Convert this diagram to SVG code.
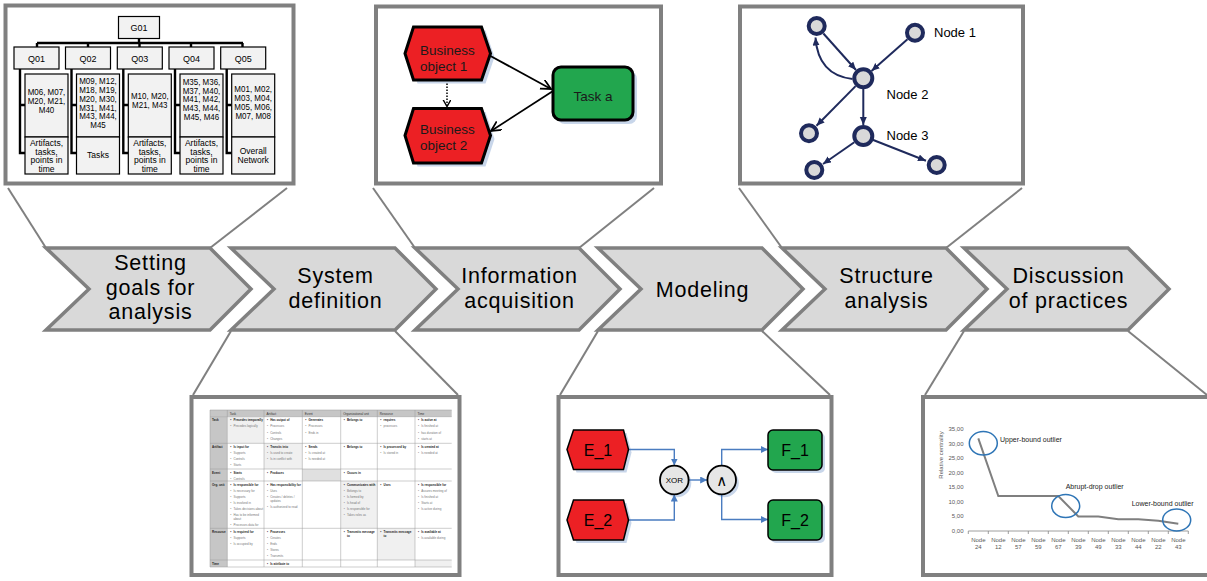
<svg xmlns="http://www.w3.org/2000/svg" width="1207" height="581" viewBox="0 0 1207 581">
<style>
.frame{fill:#fff;stroke:#808080;stroke-width:4}
.funnel{stroke:#808080;stroke-width:2;fill:none}
.chev{fill:#d9d9d9;stroke:#808080;stroke-width:3.5}
.ct{font-family:"Liberation Sans",Arial,sans-serif;font-size:21.5px;letter-spacing:0.8px;text-anchor:middle;fill:#000}
.tb{fill:#f2f2f2;stroke:#000;stroke-width:1.2}
.tt{font-family:"Liberation Sans",Arial,sans-serif;font-size:9px;text-anchor:middle;fill:#000}
.tm{font-family:"Liberation Sans",Arial,sans-serif;font-size:9.5px;text-anchor:middle;fill:#000}
.tl{stroke:#000;stroke-width:2.4;fill:none}
.red{fill:#ec2024;stroke:#000;stroke-width:3}
.grn{fill:#22a64e;stroke:#000;stroke-width:3}
.shd{fill:#c8d6ea}
.bt{font-family:"Liberation Sans",Arial,sans-serif;font-size:13.5px;fill:#1a1a1a}
.ar{stroke:#000;stroke-width:1.8;fill:none}
.nd{fill:#d9d9d9;stroke:#1f2a5c;stroke-width:4}
.ne{stroke:#1f2a5c;stroke-width:2;fill:none}
.nt{font-family:"Liberation Sans",Arial,sans-serif;font-size:13px;fill:#000}
.tg{fill:none;stroke:#9a9a9a;stroke-width:0.5}
.th{font-family:"Liberation Sans",Arial,sans-serif;font-size:3.1px;fill:#333}
.tk{font-family:"Liberation Sans",Arial,sans-serif;font-size:3px;fill:#222;font-weight:bold}
.tx{font-family:"Liberation Sans",Arial,sans-serif;font-size:3px;fill:#777}
.ered{fill:#ec2024;stroke:#000;stroke-width:1.5}
.egrn{fill:#22a64e;stroke:#000;stroke-width:1.5}
.eline{stroke:#4a7cc0;stroke-width:1.4;fill:none}
.et{font-family:"Liberation Sans",Arial,sans-serif;font-size:16px;text-anchor:middle;fill:#000}
.gate{fill:#e6e6e6;stroke:#000;stroke-width:1.8}
.ax{font-family:"Liberation Sans",Arial,sans-serif;font-size:6px;fill:#595959}
.ol{fill:none;stroke:#2e75b6;stroke-width:1.5}
.olt{font-family:"Liberation Sans",Arial,sans-serif;font-size:7px;fill:#222}
</style>
<defs>
<marker id="openB" markerUnits="userSpaceOnUse" markerWidth="12" markerHeight="12" refX="10" refY="5" orient="auto">
<path d="M0,0 L10,5 L0,10" fill="none" stroke="#000" stroke-width="1.8"/>
</marker>
<marker id="openS" markerUnits="userSpaceOnUse" markerWidth="10" markerHeight="10" refX="7" refY="4" orient="auto">
<path d="M0,0 L7,4 L0,8" fill="none" stroke="#000" stroke-width="1.4"/>
</marker>
<marker id="navy" markerUnits="userSpaceOnUse" markerWidth="9" markerHeight="8" refX="8" refY="3.5" orient="auto">
<path d="M0,0 L8,3.5 L0,7 z" fill="#1f2a5c"/>
</marker>
<marker id="blue" markerUnits="userSpaceOnUse" markerWidth="8" markerHeight="8" refX="7" refY="3.5" orient="auto">
<path d="M0,0 L7,3.5 L0,7 z" fill="#4a7cc0"/>
</marker>
</defs>
<rect width="1207" height="581" fill="#fff"/>

<g id="connectors">
<g id="funnels">
<line class="funnel" x1="8" y1="188" x2="46" y2="248"/>
<line class="funnel" x1="287" y1="188" x2="210" y2="248"/>
<line class="funnel" x1="373" y1="188" x2="415" y2="248"/>
<line class="funnel" x1="654" y1="188" x2="579" y2="248"/>
<line class="funnel" x1="739" y1="188" x2="782" y2="248"/>
<line class="funnel" x1="1022" y1="188" x2="946" y2="248"/>
<line class="funnel" x1="231" y1="331" x2="193" y2="395"/>
<line class="funnel" x1="395" y1="331" x2="458" y2="395"/>
<line class="funnel" x1="598" y1="331" x2="560" y2="395"/>
<line class="funnel" x1="762" y1="331" x2="830" y2="395"/>
<line class="funnel" x1="964" y1="331" x2="925" y2="395"/>
<line class="funnel" x1="1128" y1="331" x2="1207" y2="395"/>
</g>
</g>

<g id="step1"><polygon class="chev" points="46,248 210,248 251,289 210,330 46,330 89,289"/>
<text class="ct" x="150.5" y="270">Setting</text><text class="ct" x="150.5" y="295">goals for</text><text class="ct" x="150.5" y="319">analysis</text></g>
<g id="step2"><polygon class="chev" points="231,248 395,248 436,289 395,330 231,330 274,289"/>
<text class="ct" x="335.5" y="283">System</text><text class="ct" x="335.5" y="308">definition</text></g>
<g id="step3"><polygon class="chev" points="415,248 579,248 620,289 579,330 415,330 458,289"/>
<text class="ct" x="519.5" y="283">Information</text><text class="ct" x="519.5" y="308">acquisition</text></g>
<g id="step4"><polygon class="chev" points="598,248 762,248 803,289 762,330 598,330 641,289"/>
<text class="ct" x="702.5" y="297">Modeling</text></g>
<g id="step5"><polygon class="chev" points="782,248 946,248 987,289 946,330 782,330 825,289"/>
<text class="ct" x="886.5" y="283">Structure</text><text class="ct" x="886.5" y="308">analysis</text></g>
<g id="step6"><polygon class="chev" points="964,248 1128,248 1169,289 1128,330 964,330 1007,289"/>
<text class="ct" x="1068.5" y="283">Discussion</text><text class="ct" x="1068.5" y="308">of practices</text></g>

<g id="frame-goals">
<rect class="frame" x="5.5" y="5.5" width="288" height="178"/>
<path class="tl" d="M139,38.5 V43 M37,43 H243 M37,43 V47 M88,43 V47 M139.5,43 V47 M191,43 V47 M242.5,43 V47"/>
<path class="tl" d="M20,69 V153 H25 M20,105 H25 M71.5,69 V153 H76.5 M71.5,105 H76.5 M123.3,69 V153 H128.3 M123.3,105 H128.3 M175,69 V153 H180 M175,105 H180 M226.7,69 V153 H231.7 M226.7,105 H231.7"/>
<g id="G01"><rect class="tb" x="118.5" y="16.5" width="41" height="22"/><text class="tt" x="139" y="31">G01</text></g>
<g id="Q01"><rect class="tb" x="14" y="47" width="45" height="22"/><text class="tt" x="36.5" y="61.5">Q01</text></g>
<g id="Q02"><rect class="tb" x="65.5" y="47" width="45" height="22"/><text class="tt" x="88" y="61.5">Q02</text></g>
<g id="Q03"><rect class="tb" x="117.3" y="47" width="45" height="22"/><text class="tt" x="139.8" y="61.5">Q03</text></g>
<g id="Q04"><rect class="tb" x="169" y="47" width="45" height="22"/><text class="tt" x="191.5" y="61.5">Q04</text></g>
<g id="Q05"><rect class="tb" x="220.7" y="47" width="45" height="22"/><text class="tt" x="243.2" y="61.5">Q05</text></g>
<g id="M01"><rect class="tb" x="25" y="74" width="43" height="63"/>
<g transform="translate(46.5 0) scale(0.84 1)"><text class="tm" x="0" y="95.5">M06, M07,<tspan x="0" dy="8.7">M20, M21,</tspan><tspan x="0" dy="8.7">M40</tspan></text></g></g>
<g id="M02"><rect class="tb" x="76.5" y="74" width="43" height="63"/>
<g transform="translate(98 0) scale(0.84 1)"><text class="tm" x="0" y="84.5">M09, M12,<tspan x="0" dy="8.7">M18, M19,</tspan><tspan x="0" dy="8.7">M20, M30,</tspan><tspan x="0" dy="8.7">M31, M41,</tspan><tspan x="0" dy="8.7">M43, M44,</tspan><tspan x="0" dy="8.7">M45</tspan></text></g></g>
<g id="M03"><rect class="tb" x="128.3" y="74" width="43" height="63"/>
<g transform="translate(149.8 0) scale(0.84 1)"><text class="tm" x="0" y="99.5">M10, M20,<tspan x="0" dy="8.7">M21, M43</tspan></text></g></g>
<g id="M04"><rect class="tb" x="180" y="74" width="43" height="63"/>
<g transform="translate(201.5 0) scale(0.84 1)"><text class="tm" x="0" y="85">M35, M36,<tspan x="0" dy="8.7">M37, M40,</tspan><tspan x="0" dy="8.7">M41, M42,</tspan><tspan x="0" dy="8.7">M43, M44,</tspan><tspan x="0" dy="8.7">M45, M46</tspan></text></g></g>
<g id="M05"><rect class="tb" x="231.7" y="74" width="43" height="63"/>
<g transform="translate(253.2 0) scale(0.84 1)"><text class="tm" x="0" y="92.5">M01, M02,<tspan x="0" dy="8.7">M03, M04,</tspan><tspan x="0" dy="8.7">M05, M06,</tspan><tspan x="0" dy="8.7">M07, M08</tspan></text></g></g>
<g id="B01"><rect class="tb" x="25" y="137" width="43" height="37"/>
<g transform="translate(46.5 0) scale(0.9 1)"><text class="tm" x="0" y="146">Artifacts,<tspan x="0" dy="8.7">tasks,</tspan><tspan x="0" dy="8.7">points in</tspan><tspan x="0" dy="8.7">time</tspan></text></g></g>
<g id="B02"><rect class="tb" x="76.5" y="137" width="43" height="37"/>
<g transform="translate(98 0) scale(0.9 1)"><text class="tm" x="0" y="158.5">Tasks</text></g></g>
<g id="B03"><rect class="tb" x="128.3" y="137" width="43" height="37"/>
<g transform="translate(149.8 0) scale(0.9 1)"><text class="tm" x="0" y="146">Artifacts,<tspan x="0" dy="8.7">tasks,</tspan><tspan x="0" dy="8.7">points in</tspan><tspan x="0" dy="8.7">time</tspan></text></g></g>
<g id="B04"><rect class="tb" x="180" y="137" width="43" height="37"/>
<g transform="translate(201.5 0) scale(0.9 1)"><text class="tm" x="0" y="146">Artifacts,<tspan x="0" dy="8.7">tasks,</tspan><tspan x="0" dy="8.7">points in</tspan><tspan x="0" dy="8.7">time</tspan></text></g></g>
<g id="B05"><rect class="tb" x="231.7" y="137" width="43" height="37"/>
<g transform="translate(253.2 0) scale(0.9 1)"><text class="tm" x="0" y="154">Overall<tspan x="0" dy="8.7">Network</tspan></text></g></g>
</g>

<g id="frame-info">
<rect class="frame" x="376" y="6.5" width="285" height="177"/>
<polygon class="shd" points="409,57 417.5,30.5 485.5,30.5 494.5,57 485.5,83.5 417.5,83.5"/>
<polygon class="shd" points="409,139 417.5,112 485.5,112 494.5,139 485.5,166.5 417.5,166.5"/>
<rect class="shd" x="557" y="71" width="80" height="53" rx="8"/>
<g id="bo1"><polygon class="red" points="405,53.5 413.5,27 481.5,27 490.5,53.5 481.5,80 413.5,80"/>
<text class="bt" x="420" y="54.5">Business<tspan x="420" dy="16">object 1</tspan></text></g>
<g id="bo2"><polygon class="red" points="405,135.5 413.5,108.5 481.5,108.5 490.5,135.5 481.5,163 413.5,163"/>
<text class="bt" x="420" y="133.5">Business<tspan x="420" dy="16">object 2</tspan></text></g>
<g id="taska"><rect class="grn" x="553" y="67" width="80" height="53" rx="8"/>
<text class="bt" x="593" y="101" text-anchor="middle">Task a</text></g>
<g id="info-edges">
<line class="ar" x1="490.5" y1="56" x2="551" y2="89" marker-end="url(#openB)"/>
<line class="ar" x1="553" y1="91" x2="491" y2="131" marker-end="url(#openB)"/>
<line x1="447" y1="83.5" x2="447" y2="106.5" stroke="#000" stroke-width="1.5" stroke-dasharray="1.5,1.5" marker-end="url(#openS)"/>
</g>
</g>

<g id="frame-network">
<rect class="frame" x="740" y="6.5" width="283" height="177"/>
<g id="net-edges">
<line class="ne" x1="823.4" y1="33.5" x2="856" y2="70" marker-end="url(#navy)"/>
<line class="ne" x1="907.5" y1="39.3" x2="871.5" y2="71" marker-end="url(#navy)"/>
<path class="ne" d="M852.5,79 Q818,75 815.5,37.5" marker-end="url(#navy)"/>
<line class="ne" x1="855.6" y1="86.1" x2="816.5" y2="125.7" marker-end="url(#navy)"/>
<line class="ne" x1="863.3" y1="89" x2="863.3" y2="125" marker-end="url(#navy)"/>
<line class="ne" x1="854.3" y1="142.3" x2="823" y2="164" marker-end="url(#navy)"/>
<line class="ne" x1="872.6" y1="139.7" x2="926" y2="160.8" marker-end="url(#navy)"/>
</g>
<g id="na"><circle class="nd" cx="816.7" cy="26" r="8"/></g>
<g id="node1"><circle class="nd" cx="915" cy="32.7" r="8"/><text class="nt" x="934" y="36.5">Node 1</text></g>
<g id="node2"><circle class="nd" cx="863.3" cy="78.3" r="9"/><text class="nt" x="886.5" y="99">Node 2</text></g>
<g id="nb"><circle class="nd" cx="809" cy="133.3" r="8"/></g>
<g id="node3"><circle class="nd" cx="863.3" cy="136" r="9"/><text class="nt" x="886.5" y="140">Node 3</text></g>
<g id="nc"><circle class="nd" cx="814.3" cy="170" r="8"/></g>
<g id="ndd"><circle class="nd" cx="936.7" cy="165" r="8"/></g>
</g>

<g id="frame-table">
<rect class="frame" x="191.5" y="397" width="268" height="178"/>
<rect x="210" y="410" width="241.7" height="6.7" fill="#c6c6c6"/>
<rect x="210" y="416.7" width="17.3" height="150.3" fill="#c6c6c6"/>
<rect x="227.3" y="416.7" width="36.7" height="26.6" fill="#f0f0f0"/>
<rect x="264" y="443.3" width="38.3" height="25.7" fill="#f0f0f0"/>
<rect x="302.3" y="469" width="38.4" height="12" fill="#e0e0e0"/>
<rect x="340.7" y="481" width="36.6" height="47.3" fill="#f0f0f0"/>
<rect x="377.3" y="528.3" width="37.7" height="31.7" fill="#f0f0f0"/>
<rect x="415" y="560" width="36.7" height="7" fill="#f0f0f0"/>
<path class="tg" d="M210,410 H451.7 M210,416.7 H451.7 M210,443.3 H451.7 M210,469 H451.7 M210,481 H451.7 M210,528.3 H451.7 M210,560 H451.7 M210,567 H451.7 M210,410 V567 M227.3,410 V567 M264,410 V567 M302.3,410 V567 M340.7,410 V567 M377.3,410 V567 M415,410 V567"/>
<text class="th" y="414.6"><tspan x="229.8">Task</tspan><tspan x="266.5">Artifact</tspan><tspan x="304.8">Event</tspan><tspan x="343.2">Organizational unit</tspan><tspan x="379.8">Resource</tspan><tspan x="417.5">Time</tspan></text>
<text class="tk" x="212"><tspan x="212" y="421.3">Task</tspan><tspan x="212" y="447.9">Artifact</tspan><tspan x="212" y="473.6">Event</tspan><tspan x="212" y="485.6">Org. unit</tspan><tspan x="212" y="532.9">Resource</tspan><tspan x="212" y="564.6">Time</tspan></text>
<text class="tk" x="230.3" y="421.3">•<tspan x="233.5">Precedes temporally</tspan></text>
<text class="tx" x="230.3" y="427.4">•<tspan x="233.5">Precedes logically</tspan></text>
<text class="tk" x="267" y="421.3">•<tspan x="270.2">Has output of</tspan></text>
<text class="tx" x="267" y="427.4">•<tspan x="270.2">Processes</tspan><tspan x="267" dy="6.1">•</tspan><tspan x="270.2">Controls</tspan><tspan x="267" dy="6.1">•</tspan><tspan x="270.2">Changes</tspan></text>
<text class="tk" x="305.3" y="421.3">•<tspan x="308.5">Generates</tspan></text>
<text class="tx" x="305.3" y="427.4">•<tspan x="308.5">Processes</tspan><tspan x="305.3" dy="6.1">•</tspan><tspan x="308.5">Ends in</tspan></text>
<text class="tk" x="343.7" y="421.3">•<tspan x="346.9">Belongs to</tspan></text>
<text class="tk" x="380.3" y="421.3">•<tspan x="383.5">requires</tspan></text>
<text class="tx" x="380.3" y="427.4">•<tspan x="383.5">processes</tspan></text>
<text class="tk" x="418" y="421.3">•<tspan x="421.2">Is active at</tspan></text>
<text class="tx" x="418" y="427.4">•<tspan x="421.2">Is finished at</tspan><tspan x="418" dy="6.1">•</tspan><tspan x="421.2">has duration of</tspan><tspan x="418" dy="6.1">•</tspan><tspan x="421.2">starts at</tspan></text>
<text class="tk" x="230.3" y="447.9">•<tspan x="233.5">Is input for</tspan></text>
<text class="tx" x="230.3" y="454">•<tspan x="233.5">Supports</tspan><tspan x="230.3" dy="6.1">•</tspan><tspan x="233.5">Controls</tspan><tspan x="230.3" dy="6.1">•</tspan><tspan x="233.5">Starts</tspan></text>
<text class="tk" x="267" y="447.9">•<tspan x="270.2">Transits into</tspan></text>
<text class="tx" x="267" y="454">•<tspan x="270.2">Is used to create</tspan><tspan x="267" dy="6.1">•</tspan><tspan x="270.2">Is in conflict with</tspan></text>
<text class="tk" x="305.3" y="447.9">•<tspan x="308.5">Sends</tspan></text>
<text class="tx" x="305.3" y="454">•<tspan x="308.5">Is created at</tspan><tspan x="305.3" dy="6.1">•</tspan><tspan x="308.5">Is needed at</tspan></text>
<text class="tk" x="343.7" y="447.9">•<tspan x="346.9">Belongs to</tspan></text>
<text class="tk" x="380.3" y="447.9">•<tspan x="383.5">Is processed by</tspan></text>
<text class="tx" x="380.3" y="454">•<tspan x="383.5">Is stored in</tspan></text>
<text class="tk" x="418" y="447.9">•<tspan x="421.2">Is created at</tspan></text>
<text class="tx" x="418" y="454">•<tspan x="421.2">Is needed at</tspan></text>
<text class="tk" x="230.3" y="473.6">•<tspan x="233.5">Starts</tspan></text>
<text class="tx" x="230.3" y="479.7">•<tspan x="233.5">Controls</tspan></text>
<text class="tk" x="267" y="473.6">•<tspan x="270.2">Produces</tspan></text>
<text class="tk" x="343.7" y="473.6">•<tspan x="346.9">Occurs in</tspan></text>
<text class="tk" x="230.3" y="485.6">•<tspan x="233.5">Is responsible for</tspan></text>
<text class="tx" x="230.3" y="491.6">•<tspan x="233.5">Is necessary for</tspan><tspan x="230.3" dy="6">•</tspan><tspan x="233.5">Supports</tspan><tspan x="230.3" dy="6">•</tspan><tspan x="233.5">Is involved in</tspan><tspan x="230.3" dy="6">•</tspan><tspan x="233.5">Takes decisions about</tspan><tspan x="230.3" dy="6">•</tspan><tspan x="233.5">Has to be informed</tspan><tspan x="233.5" dy="4.5">about</tspan><tspan x="230.3" dy="5.5">•</tspan><tspan x="233.5">Processes data for</tspan></text>
<text class="tk" x="267" y="485.6">•<tspan x="270.2">Has responsibility for</tspan></text>
<text class="tx" x="267" y="491.6">•<tspan x="270.2">Uses</tspan><tspan x="267" dy="6">•</tspan><tspan x="270.2">Creates / deletes /</tspan><tspan x="270.2" dy="4.5">updates</tspan><tspan x="267" dy="6">•</tspan><tspan x="270.2">Is authorized to read</tspan></text>
<text class="tk" x="343.7" y="485.6">•<tspan x="346.9">Communicates with</tspan></text>
<text class="tx" x="343.7" y="491.6">•<tspan x="346.9">Belongs to</tspan><tspan x="343.7" dy="6">•</tspan><tspan x="346.9">Is formed by</tspan><tspan x="343.7" dy="6">•</tspan><tspan x="346.9">Is head of</tspan><tspan x="343.7" dy="6">•</tspan><tspan x="346.9">Is responsible for</tspan><tspan x="343.7" dy="6">•</tspan><tspan x="346.9">Takes roles as</tspan></text>
<text class="tk" x="380.3" y="485.6">•<tspan x="383.5">Uses</tspan></text>
<text class="tk" x="418" y="485.6">•<tspan x="421.2">Is responsible for</tspan></text>
<text class="tx" x="418" y="491.6">•<tspan x="421.2">Assures meeting of</tspan><tspan x="418" dy="6">•</tspan><tspan x="421.2">Is finished at</tspan><tspan x="418" dy="6">•</tspan><tspan x="421.2">Starts at</tspan><tspan x="418" dy="6">•</tspan><tspan x="421.2">Is active during</tspan></text>
<text class="tk" x="230.3" y="532.9">•<tspan x="233.5">Is required for</tspan></text>
<text class="tx" x="230.3" y="539">•<tspan x="233.5">Supports</tspan><tspan x="230.3" dy="6.1">•</tspan><tspan x="233.5">Is occupied by</tspan></text>
<text class="tk" x="267" y="532.9">•<tspan x="270.2">Processes</tspan></text>
<text class="tx" x="267" y="539">•<tspan x="270.2">Creates</tspan><tspan x="267" dy="6.1">•</tspan><tspan x="270.2">Ends</tspan><tspan x="267" dy="6.1">•</tspan><tspan x="270.2">Stores</tspan><tspan x="267" dy="6.1">•</tspan><tspan x="270.2">Transmits</tspan></text>
<text class="tk" x="343.7" y="532.9">•<tspan x="346.9">Transmits message</tspan><tspan x="346.9" dy="4.5">to</tspan></text>
<text class="tk" x="380.3" y="532.9">•<tspan x="383.5">Transmits message</tspan><tspan x="383.5" dy="4.5">to</tspan></text>
<text class="tk" x="418" y="532.9">•<tspan x="421.2">Is available at</tspan></text>
<text class="tx" x="418" y="539">•<tspan x="421.2">Is available during</tspan></text>
<text class="tk" x="267" y="564.6">•<tspan x="270.2">Is attribute to</tspan></text>
</g>

<g id="frame-model">
<rect class="frame" x="558.5" y="397" width="273" height="178"/>
<polygon class="shd" points="570,452.5 576.5,433 626.5,433 631.5,452.5 626.5,472.5 576.5,472.5"/>
<polygon class="shd" points="570,523 576.5,503 626.5,503 631.5,523 626.5,543 576.5,543"/>
<circle class="shd" cx="677" cy="483" r="14.3"/>
<circle class="shd" cx="724.5" cy="483" r="14.3"/>
<rect class="shd" x="771" y="433" width="54" height="40" rx="5"/>
<rect class="shd" x="771" y="503" width="54" height="40" rx="5"/>
<g id="model-edges">
<path class="eline" d="M628.5,449.5 H674.3 V465.5" marker-end="url(#blue)"/>
<path class="eline" d="M628.5,520 H674.3 V494.5" marker-end="url(#blue)"/>
<path class="eline" d="M688.6,480 H707.2" marker-end="url(#blue)"/>
<path class="eline" d="M721.7,465.7 V449.5 H768" marker-end="url(#blue)"/>
<path class="eline" d="M721.7,494.3 V519.5 H768" marker-end="url(#blue)"/>
</g>
<g id="e1"><polygon class="ered" points="567,449.5 573.5,430 623.5,430 628.5,449.5 623.5,469.5 573.5,469.5"/><text class="et" x="598" y="456">E_1</text></g>
<g id="e2"><polygon class="ered" points="567,520 573.5,500 623.5,500 628.5,520 623.5,540 573.5,540"/><text class="et" x="598" y="526">E_2</text></g>
<g id="xor"><circle class="gate" cx="674.3" cy="480" r="14.3"/><text x="674.3" y="483" font-family="Liberation Sans, Arial, sans-serif" font-size="8" text-anchor="middle">XOR</text></g>
<g id="and"><circle class="gate" cx="721.7" cy="480" r="14.3"/><text x="721.7" y="485.5" font-family="DejaVu Sans, sans-serif" font-size="15" text-anchor="middle">∧</text></g>
<g id="f1"><rect class="egrn" x="768" y="430" width="54" height="40" rx="5"/><text class="et" x="795" y="456">F_1</text></g>
<g id="f2"><rect class="egrn" x="768" y="500" width="54" height="40" rx="5"/><text class="et" x="795" y="526">F_2</text></g>
</g>

<g id="frame-chart">
<rect class="frame" x="923" y="397" width="300" height="178"/>
<text class="ax" transform="translate(943,455) rotate(-90)" text-anchor="middle" font-size="6.2" fill="#222">Relative centrality</text>
<g class="ax" text-anchor="end">
<text x="963.5" y="431">35,00</text><text x="963.5" y="445.6">30,00</text><text x="963.5" y="460.2">25,00</text><text x="963.5" y="474.7">20,00</text><text x="963.5" y="489.3">15,00</text><text x="963.5" y="503.9">10,00</text><text x="963.5" y="518.4">5,00</text><text x="963.5" y="533">0,00</text>
</g>
<path d="M968.3,531 H1188.3 M968.3,531 V534 M988.3,531 V534 M1008.3,531 V534 M1028.3,531 V534 M1048.3,531 V534 M1068.3,531 V534 M1088.3,531 V534 M1108.3,531 V534 M1128.3,531 V534 M1148.3,531 V534 M1168.3,531 V534 M1188.3,531 V534" stroke="#868686" stroke-width="0.8" fill="none"/>
<g class="ax" text-anchor="middle">
<text x="978.3" y="541.7">Node<tspan x="978.3" y="549.3">24</tspan></text>
<text x="998.3" y="541.7">Node<tspan x="998.3" y="549.3">12</tspan></text>
<text x="1018.3" y="541.7">Node<tspan x="1018.3" y="549.3">57</tspan></text>
<text x="1038.3" y="541.7">Node<tspan x="1038.3" y="549.3">59</tspan></text>
<text x="1058.3" y="541.7">Node<tspan x="1058.3" y="549.3">67</tspan></text>
<text x="1078.3" y="541.7">Node<tspan x="1078.3" y="549.3">39</tspan></text>
<text x="1098.3" y="541.7">Node<tspan x="1098.3" y="549.3">49</tspan></text>
<text x="1118.3" y="541.7">Node<tspan x="1118.3" y="549.3">33</tspan></text>
<text x="1138.3" y="541.7">Node<tspan x="1138.3" y="549.3">44</tspan></text>
<text x="1158.3" y="541.7">Node<tspan x="1158.3" y="549.3">22</tspan></text>
<text x="1178.3" y="541.7">Node<tspan x="1178.3" y="549.3">43</tspan></text>
</g>
<polyline points="978.3,438.3 998.3,496 1018.3,496 1038.3,496 1058.3,496 1078.3,516.4 1098.3,516.4 1118.3,519.3 1138.3,519.3 1158.3,520.8 1178.3,523.7" fill="none" stroke="#7f7f7f" stroke-width="2"/>
<ellipse class="ol" cx="983.3" cy="443.3" rx="14" ry="11.7"/>
<ellipse class="ol" cx="1065.7" cy="506" rx="14" ry="11.5"/>
<ellipse class="ol" cx="1176.7" cy="520" rx="14" ry="11"/>
<text class="olt" x="1000" y="441.7">Upper-bound outlier</text>
<text class="olt" x="1065.7" y="489.3">Abrupt-drop outlier</text>
<text class="olt" x="1131.7" y="506">Lower-bound outlier</text>
</g>
</svg>
